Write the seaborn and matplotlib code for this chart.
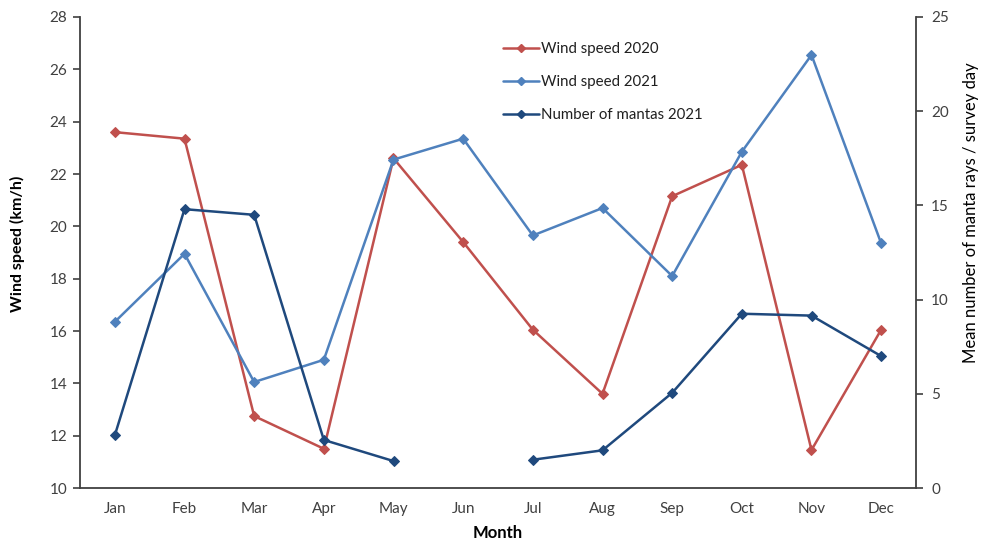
import numpy as np
import pandas as pd
import matplotlib
matplotlib.use("Agg")
import matplotlib.pyplot as plt
from matplotlib.lines import Line2D
from matplotlib.ticker import FixedLocator
import seaborn as sns

months = ["Jan", "Feb", "Mar", "Apr", "May", "Jun", "Jul", "Aug", "Sep", "Oct", "Nov", "Dec"]
wind_2020 = [23.6, 23.35, 12.75, 11.5, 22.6, 19.4, 16.05, 13.6, 21.15, 22.35, 11.45, 16.05]
wind_2021 = [16.35, 18.95, 14.05, 14.9, 22.55, 23.35, 19.65, 20.7, 18.1, 22.85, 26.55, 19.35]
mantas_2021 = [2.8, 14.8, 14.5, 2.55, 1.43, np.nan, 1.5, 2.0, 5.05, 9.25, 9.15, 7.0]

c2020 = "#C0504D"
c2021 = "#4F81BD"
cmanta = "#1F497D"

sns.set_theme(style="white")
plt.rcParams['font.family'] = ['Lato', 'DejaVu Sans']

df = pd.DataFrame({
    "x": np.arange(len(months)),
    "month": months,
    "w2020": wind_2020,
    "w2021": wind_2021,
    "mantas": mantas_2021,
})
df["segment"] = df["mantas"].isna().cumsum()

fig = plt.figure(figsize=(9.81, 5.42), dpi=100)
ax = fig.add_axes([80/981, 1 - 488/542, (916 - 80)/981, (488 - 17)/542])
ax2 = ax.twinx()

lw = 1.8
ms = 5
sns.lineplot(data=df, x="x", y="w2020", ax=ax, color=c2020, marker="D",
             markersize=ms, markeredgecolor=c2020, linewidth=lw, estimator=None)
sns.lineplot(data=df, x="x", y="w2021", ax=ax, color=c2021, marker="D",
             markersize=ms, markeredgecolor=c2021, linewidth=lw, estimator=None)
mdf = df.dropna(subset=["mantas"])
for seg, sub in mdf.groupby("segment"):
    sns.lineplot(data=sub, x="x", y="mantas", ax=ax2, color=cmanta, marker="D",
                 markersize=ms, markeredgecolor=cmanta, linewidth=lw, estimator=None)

ax.set_xlim(-0.5, len(months) - 0.5)
ax.set_ylim(10, 28)
ax2.set_ylim(0, 25)
ax.set_yticks(np.arange(10, 29, 2))
ax2.set_yticks(np.arange(0, 26, 5))
ax.set_xticks(np.arange(len(months)))
ax.set_xticklabels(months)
ax.xaxis.set_minor_locator(FixedLocator(np.arange(-0.5, len(months), 1.0)))

spine_c = "#404040"
text_c = "#404040"
for a in (ax, ax2):
    for s in a.spines.values():
        s.set_color(spine_c)
        s.set_linewidth(1.3)
    a.spines["top"].set_visible(False)
ax.spines["right"].set_visible(False)
ax2.spines["left"].set_visible(False)
ax2.spines["bottom"].set_visible(False)

ax.tick_params(axis="x", which="major", length=0, labelsize=11, labelcolor=text_c, pad=10)
ax.tick_params(axis="x", which="minor", length=5, direction="in", color=spine_c, width=1.2)
ax.tick_params(axis="y", which="major", length=5, direction="out", left=True,
               color=spine_c, width=1.2, labelsize=11, labelcolor=text_c, pad=4)
ax2.tick_params(axis="y", which="major", length=5, direction="out", right=True,
                color=spine_c, width=1.2, labelsize=11, labelcolor=text_c, pad=6)

ax.set_xlabel("Month", fontsize=12, fontweight="bold", color="black")
ax.xaxis.set_label_coords(0.5, -0.078)
ax.set_ylabel("Wind speed (km/h)", fontsize=11.5, fontweight="bold", color="black")
ax.yaxis.set_label_coords(-0.066, 0.518)
ax2.set_ylabel("Mean number of manta rays / survey day", fontsize=12, color="black")
ax2.yaxis.set_label_coords(1.056, 0.584)
ax.grid(False)
ax2.grid(False)

handles = [
    Line2D([], [], color=c2020, marker="D", markersize=4, linewidth=lw),
    Line2D([], [], color=c2021, marker="D", markersize=4, linewidth=lw),
    Line2D([], [], color=cmanta, marker="D", markersize=4, linewidth=lw),
]
labels = ["Wind speed 2020", "Wind speed 2021", "Number of mantas 2021"]
leg = ax2.legend(handles, labels, loc="upper left", bbox_to_anchor=(0.49, 0.975),
                 frameon=False, fontsize=10.8, labelspacing=1.25, handlelength=2.4,
                 handletextpad=0.1)
for t in leg.get_texts():
    t.set_color("#202020")

fig.savefig("out.png", dpi=100)
